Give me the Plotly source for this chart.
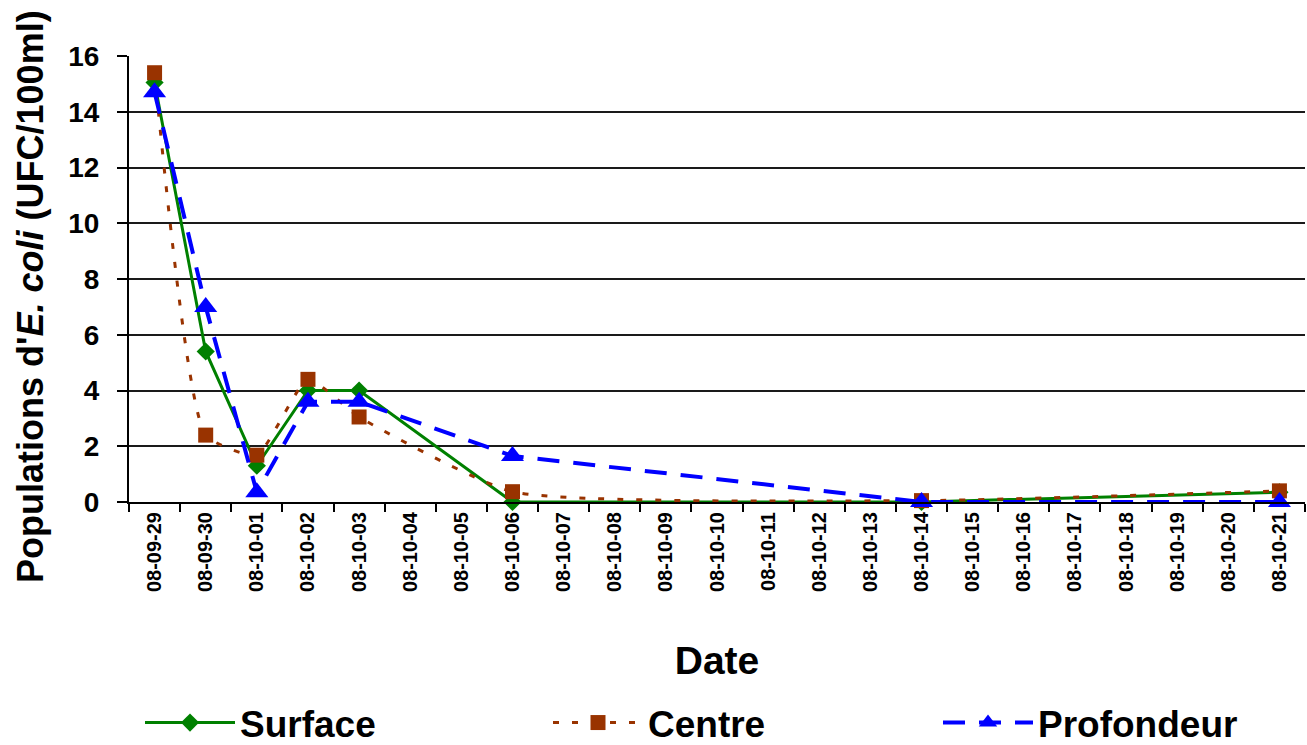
import plotly.graph_objects as go

# ---- data ----
all_dates = ["08-09-29", "08-09-30", "08-10-01", "08-10-02", "08-10-03", "08-10-04",
             "08-10-05", "08-10-06", "08-10-07", "08-10-08", "08-10-09", "08-10-10",
             "08-10-11", "08-10-12", "08-10-13", "08-10-14", "08-10-15", "08-10-16",
             "08-10-17", "08-10-18", "08-10-19", "08-10-20", "08-10-21"]
sample_dates = ["08-09-29", "08-09-30", "08-10-01", "08-10-02", "08-10-03",
                "08-10-06", "08-10-14", "08-10-21"]
surface = [15.05, 5.4, 1.3, 4.0, 4.0, 0.0, 0.0, 0.35]
centre = [15.4, 2.4, 1.68, 4.4, 3.05, 0.37, 0.05, 0.4]
profondeur = [14.7, 7.0, 0.35, 3.6, 3.6, 1.65, 0.0, 0.0]
y_ticks = [0, 2, 4, 6, 8, 10, 12, 14, 16]
y_title = "Populations d'<i>E. coli</i> (UFC/100ml)"

FONT = "Liberation Sans, Arial, sans-serif"

fig = go.Figure()
fig.add_trace(go.Scatter(
    x=sample_dates, y=surface, name="Surface", mode="lines+markers",
    line=dict(color="#008000", width=3),
    marker=dict(symbol="diamond", size=14, color="#008000"),
    cliponaxis=False, legend="legend"))
fig.add_trace(go.Scatter(
    x=sample_dates, y=centre, name="Centre", mode="lines+markers",
    line=dict(color="#993300", width=3, dash="6px,13px", shape="spline", smoothing=0.5),
    marker=dict(symbol="square", size=15, color="#993300"),
    cliponaxis=False, legend="legend2"))
fig.add_trace(go.Scatter(
    x=sample_dates, y=profondeur, name="Profondeur", mode="lines+markers",
    line=dict(color="#0000FF", width=4, dash="22px,14px"),
    marker=dict(symbol="triangle-up", size=20, color="#0000FF"),
    cliponaxis=False, legend="legend3"))

leg_common = dict(
    orientation="h", xref="container", yref="container",
    xanchor="left", y=1 - 723 / 745, yanchor="middle",
    font=dict(size=37, family=FONT, weight="bold", color="black"),
    itemwidth=90, bgcolor="rgba(0,0,0,0)",
)

fig.update_layout(
    width=1307, height=745,
    margin=dict(l=129, r=2, t=56, b=243, autoexpand=False),
    paper_bgcolor="white", plot_bgcolor="white",
    font=dict(family=FONT, color="black", weight="bold"),
    showlegend=True,
    legend=dict(leg_common, x=140 / 1307),
    legend2=dict(leg_common, x=548 / 1307),
    legend3=dict(leg_common, x=938 / 1307),
    xaxis=dict(
        type="category", categoryorder="array", categoryarray=all_dates,
        tickvals=all_dates, ticktext=all_dates,
        range=[-0.5, len(all_dates) - 0.5],
        showline=True, linecolor="black", linewidth=2,
        ticks="outside", tickson="boundaries", ticklen=8, tickwidth=2, tickcolor="black",
        tickangle=-90, tickfont=dict(size=20, family=FONT, weight="bold"),
        showgrid=False, zeroline=False,
        title=dict(text="Date", font=dict(size=39, family=FONT, weight="bold"), standoff=56),
        automargin=False,
    ),
    yaxis=dict(
        range=[0, 16], tickvals=y_ticks,
        showline=True, linecolor="black", linewidth=2,
        ticks="outside", ticklen=10, tickwidth=2, tickcolor="black",
        tickfont=dict(size=28, family=FONT, weight="bold"),
        ticklabelstandoff=12,
        showgrid=True, gridcolor="#1a1a1a", gridwidth=2,
        zeroline=False,
        automargin=False,
    ),
    annotations=[dict(
        text=y_title, textangle=-90, showarrow=False,
        xref="paper", yref="paper",
        x=-(129 - 30) / 1176, y=(502 - 297) / 446,
        xanchor="center", yanchor="middle",
        font=dict(size=36, family=FONT, weight="bold", color="black"),
    )],
)

fig.write_html("out.html", post_script="document.body.style.margin='0';",
               config={"displayModeBar": False})
